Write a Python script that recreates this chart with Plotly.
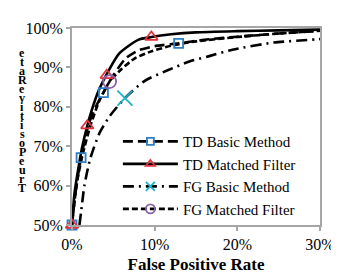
import plotly.graph_objects as go

# ---- data (percent) ----
td_basic_x = [0, 0.3, 0.6, 1.1, 2.0, 3.0, 3.8, 5.0, 6.5, 8.0, 10.0, 12.9, 16, 20, 25, 30]
td_basic_y = [50, 56, 61, 67.1, 75.5, 80.5, 83.6, 88.0, 92.3, 94.3, 95.4, 96.1, 97.0, 97.8, 98.6, 99.3]
td_basic_mx = [0, 1.1, 3.8, 12.9]
td_basic_my = [50, 67.1, 83.6, 96.1]

td_mf_x = [0, 0.3, 0.7, 1.2, 1.85, 2.4, 3.2, 4.2, 5.7, 8.0, 9.6, 12, 15, 20, 25, 30]
td_mf_y = [50, 58, 63.5, 69.5, 75.2, 79.2, 84.0, 88.3, 93.5, 97.0, 97.7, 98.4, 98.9, 99.2, 99.4, 99.6]
td_mf_mx = [0, 1.85, 4.2, 9.6]
td_mf_my = [50, 75.2, 88.0, 97.7]

fg_basic_x = [0.9, 1.1, 1.5, 2.2, 3.3, 4.55, 6.4, 8.8, 11.5, 14.2, 16.5, 19.4, 24.4, 29.4, 30]
fg_basic_y = [50, 53.3, 60, 66.8, 73.2, 77.6, 82.2, 86.6, 89.2, 91.5, 92.8, 94.5, 96.3, 97.1, 97.2]
fg_basic_mx = [6.4]
fg_basic_my = [82.2]

fg_mf_x = [0, 0.3, 0.7, 1.3, 2.2, 3.3, 4.55, 6.0, 7.6, 9.5, 12, 15, 20, 25, 30]
fg_mf_y = [50, 56, 62, 68, 75, 81.5, 86.4, 89.6, 92.3, 94.0, 95.5, 96.6, 97.7, 98.6, 99.3]
fg_mf_mx = [4.55]
fg_mf_my = [86.4]

series_names = ["TD Basic Method", "TD Matched Filter", "FG Basic Method", "FG Matched Filter"]
x_ticks = [0, 10, 20, 30]
y_ticks = [50, 60, 70, 80, 90, 100]
y_title_letters = list("TruePositiveRate")

FONT = "Liberation Serif, Times New Roman, serif"
blue, red, cyan, purple = "#2E7EC4", "#E0323F", "#1FB2C8", "#8A62A8"

series = [
    (series_names[0], td_basic_x, td_basic_y, td_basic_mx, td_basic_my, "10px,5px", "square-open", blue, 9, 7),
    (series_names[1], td_mf_x, td_mf_y, td_mf_mx, td_mf_my, "solid", "triangle-up-open", red, 11, 8),
    (series_names[2], fg_basic_x, fg_basic_y, fg_basic_mx, fg_basic_my, "11px,5px,2px,5px", "x-thin-open", cyan, 15, 9),
    (series_names[3], fg_mf_x, fg_mf_y, fg_mf_mx, fg_mf_my, "6px,3px", "circle-open", purple, 13, 9),
]

fig = go.Figure()
for name, x, y, mx, my, dash, sym, col, sz, lsz in series:
    fig.add_trace(go.Scatter(x=x, y=y, mode="lines", line=dict(color="black", width=2.6, dash=dash,
                                                                  shape="spline", smoothing=0.6),
                             showlegend=False, hoverinfo="skip"))
for name, x, y, mx, my, dash, sym, col, sz, lsz in series:
    fig.add_trace(go.Scatter(x=mx, y=my, mode="markers", cliponaxis=False,
                             marker=dict(symbol=sym, size=sz, color=col, line=dict(color=col, width=1.8)),
                             showlegend=False))
for name, x, y, mx, my, dash, sym, col, sz, lsz in series:
    fig.add_trace(go.Scatter(x=[None], y=[None], mode="lines+markers", name=name,
                             line=dict(color="black", width=2.6, dash=dash),
                             marker=dict(symbol=sym, size=lsz, color=col, line=dict(color=col, width=1.8))))

axis_common = dict(showline=True, linecolor="#A6A6A6", linewidth=2, mirror=True, showgrid=False,
                   zeroline=False, ticks="outside", ticklen=4, tickcolor="#A6A6A6", tickwidth=1.5,
                   tickfont=dict(family=FONT, size=16, color="black"))

fig.update_layout(
    width=339, height=275,
    margin=dict(l=64, r=16, t=13, b=53),
    paper_bgcolor="white", plot_bgcolor="white",
    font=dict(family=FONT, color="black"),
    xaxis=dict(range=[0, 30], tickvals=x_ticks, ticktext=[f"{v}%" for v in x_ticks],
               title=dict(text="<b>False Positive Rate</b>", font=dict(family=FONT, size=17), standoff=6),
               **axis_common),
    yaxis=dict(range=[50, 100], tickvals=y_ticks, ticktext=[f"{v}%" for v in y_ticks], **axis_common),
    legend=dict(x=0.185, y=0.507, xanchor="left", yanchor="top", bgcolor="rgba(255,255,255,0)",
                font=dict(family=FONT, size=15, color="black"), itemwidth=55, borderwidth=0,
                tracegroupgap=0),
    showlegend=True,
)

for i, ch in enumerate(y_title_letters):
    fig.add_annotation(text=f"<b>{ch}</b>", xref="paper", yref="paper", x=0, y=0,
                       xanchor="center", yanchor="middle", xshift=-50, yshift=37 + i * 9,
                       showarrow=False, font=dict(family=FONT, size=12, color="black"))

fig.write_html("out.html")
